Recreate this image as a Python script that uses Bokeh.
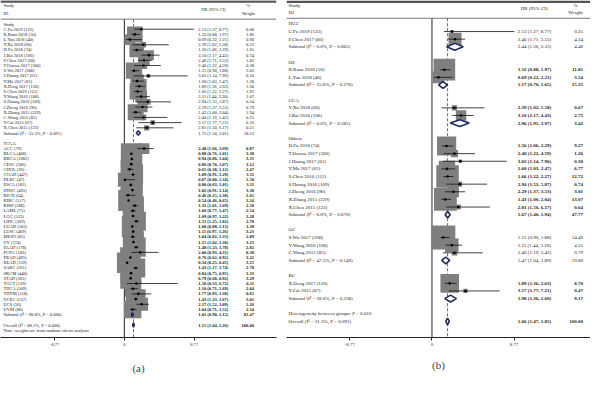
from bokeh.plotting import figure
from bokeh.models import Range1d, FixedTicker, Title, ColumnDataSource, Span
from bokeh.layouts import row
from bokeh.embed import file_html
from bokeh.resources import INLINE
from bokeh.core.properties import value

FONT = "Liberation Serif"

# ---------------- panel (a) data ----------------
a_g1_name = "Study"
a_g1_labels = ["C.Fu 2019 (122)", "R.Ruan 2018 (50)", "L.Yan 2018 (40)", "Y.Xu 2018 (60)",
               "D.Fu 2018 (74)", "J.Bai 2018 (106)", "F.Chen 2017 (60)", "T.Ozawa 2017 (300)",
               "S.Wu 2017 (208)", "J.Huang 2017 (61)", "Y.Ma 2017 (62)", "X.Deng 2017 (120)",
               "S.Chen 2016 (112)", "Y.Wang 2016 (108)", "S.Huang 2016 (109)", "J.Zheng 2016 (96)",
               "X.Zhang 2015 (229)", "C.Wang 2015 (85)", "Y.Cai 2015 (67)", "X.Chen 2015 (123)"]
a_g1_hr = [2.13, 1.32, 0.69, 2.39, 1.56, 3.10, 2.46, 2.40, 1.21, 3.02, 1.60, 1.89, 1.66, 2.11, 2.94, 2.29, 1.43, 2.40, 3.57, 2.81]
a_g1_lo = [1.27, 0.88, 0.22, 1.02, 1.06, 2.17, 1.71, 1.22, 0.90, 1.14, 1.03, 1.36, 1.22, 1.44, 1.53, 1.37, 1.00, 1.19, 1.77, 1.50]
a_g1_hi = [8.77, 1.97, 2.21, 5.58, 2.29, 4.43, 3.53, 4.59, 1.88, 7.96, 2.47, 2.63, 2.27, 3.20, 5.87, 3.53, 2.04, 5.42, 7.21, 6.17]
a_g1_w = [0.08, 1.86, 0.90, 0.22, 1.65, 0.74, 1.02, 0.38, 2.03, 0.10, 1.38, 1.60, 1.92, 1.07, 0.24, 0.79, 1.94, 0.25, 0.16, 0.21]
a_g1_sub = [1.75, 1.50, 2.01, 18.53]
a_g1_het = ["31.3%", "0.091"]

a_g2_name = "TCGA"
a_g2_labels = ["ACC (79)", "BLCA (408)", "BRCA (1082)", "CESC (306)", "CHOL (36)", "COAD (447)",
               "DLBC (47)", "ESCA (182)", "HNSC (495)", "KICH (64)", "KIRC (517)", "KIRP (288)",
               "LAML (75)", "LGG (523)", "LIHC (369)", "LUAD (503)", "LUSC (469)", "MESO (85)",
               "OV (374)", "PAAD (178)", "PCPG (183)", "PRAD (495)", "READ (159)", "SARC (261)",
               "SKCM (440)", "STAD (365)", "TGCT (139)", "THCA (509)", "THYM (118)", "UCEC (537)",
               "UCS (56)", "UVM (80)"]
a_g2_hr = [2.48, 0.88, 0.94, 0.86, 0.65, 1.09, 0.07, 0.80, 1.02, 0.46, 0.54, 1.31, 1.06, 1.09, 1.51, 1.00,
           1.11, 1.04, 1.15, 1.48, 2.00, 0.76, 0.34, 1.43, 0.84, 0.79, 1.50, 1.10, 1.77, 1.43, 2.17, 1.04]
a_g2_lo = [1.66, 0.76, 0.86, 0.70, 0.38, 0.91, 0.00, 0.63, 0.91, 0.15, 0.46, 1.01, 0.77, 0.97, 1.25, 0.88,
           0.97, 0.82, 1.02, 1.23, 0.93, 0.62, 0.25, 1.17, 0.75, 0.68, 0.33, 0.71, 0.93, 1.23, 1.52, 0.71]
a_g2_hi = [3.69, 1.01, 1.04, 1.07, 1.12, 1.29, 1.34, 1.01, 1.14, 1.38, 0.65, 1.69, 1.47, 1.22, 1.82, 1.13,
           1.26, 1.33, 1.30, 1.78, 4.31, 0.92, 0.45, 1.74, 0.95, 0.92, 6.72, 1.69, 3.38, 1.67, 3.09, 1.52]
a_g2_w = [0.87, 3.38, 3.35, 3.12, 2.47, 3.11, 1.50, 3.11, 3.30, 1.65, 3.34, 2.58, 2.54, 3.28, 2.78, 3.38,
          3.23, 2.89, 3.25, 2.82, 0.38, 3.22, 3.15, 2.78, 3.33, 3.29, 0.11, 2.04, 0.65, 3.01, 1.26, 2.34]
a_g2_sub = [1.01, 0.90, 1.12, 81.47]
a_g2_het = ["90.8%", "0.000"]

a_overall = [1.15, 1.04, 1.26, 100.00]
a_overall_het = ["88.1%", "0.000"]
a_note = "Note: weights are from random effects analysis"

# ---------------- panel (b) data ----------------
b_names = ["HCC", "OS", "CCA", "Others", "GC", "BC"]
b_labels = [["C.Fu 2019 (122)", "F.Chen 2017 (60)"],
            ["R.Ruan 2018 (50)", "L.Yan 2018 (40)"],
            ["Y.Xu 2018 (60)", "J.Bai 2018 (106)"],
            ["D.Fu 2018 (74)", "T.Ozawa 2017 (300)", "J.Huang 2017 (61)", "Y.Ma 2017 (62)",
             "S.Chen 2016 (112)", "S.Huang 2016 (109)", "J.Zheng 2016 (96)", "X.Zhang 2015 (229)",
             "X.Chen 2015 (123)"],
            ["S.Wu 2017 (208)", "Y.Wang 2016 (108)", "C.Wang 2015 (85)"],
            ["X.Deng 2017 (120)", "Y.Cai 2015 (67)"]]
b_hr = [[2.13, 2.46], [1.32, 0.69], [2.39, 3.10],
        [1.56, 2.40, 3.02, 1.60, 1.66, 2.94, 2.29, 1.43, 2.81], [1.21, 2.11, 2.40], [1.89, 3.57]]
b_lo = [[1.27, 1.71], [0.88, 0.22], [1.02, 2.17],
        [1.06, 1.22, 1.14, 1.03, 1.22, 1.53, 1.37, 1.00, 1.50], [0.90, 1.44, 1.19], [1.36, 1.77]]
b_hi = [[8.77, 3.53], [1.97, 2.21], [5.58, 4.43],
        [2.29, 4.59, 7.96, 2.47, 2.27, 5.87, 3.53, 2.04, 6.17], [1.88, 3.20, 5.42], [2.63, 7.21]]
b_w = [[0.25, 4.24], [11.81, 3.54], [0.67, 2.75],
       [9.27, 1.26, 0.30, 6.77, 12.72, 0.74, 3.01, 13.07, 0.64], [14.49, 4.55, 0.79], [8.70, 0.47]]
b_sub = [[2.44, 1.56, 3.33, 4.48], [1.17, 0.70, 1.65, 15.35], [2.96, 1.95, 3.97, 3.42],
         [1.67, 1.40, 1.94, 47.77], [1.47, 1.04, 1.89, 19.80], [1.98, 1.36, 2.60, 9.17]]
b_het = [["0.0%", "0.865"], ["15.6%", "0.276"], ["0.0%", "0.585"],
         ["0.0%", "0.670"], ["47.5%", "0.149"], ["28.0%", "0.238"]]
b_bold = [False, True, True, True, False, True]
b_overall = [1.66, 1.47, 1.85, 100.00]
b_overall_het = ["31.3%", "0.091"]
b_between = "Heterogeneity between groups: P = 0.010"

TICKS = [-8.77, 0, 8.77]


def fmt(h, l, u):
    return f"{h:.2f} ({l:.2f}, {u:.2f})"


def build(groups, overall, overall_het, extra_before, extra_after, cfg):
    lab = dict(x=[], y=[], text=[])
    val = dict(x=[], y=[], text=[], style=[])
    wt = dict(x=[], y=[], text=[], style=[])
    st = dict(hr=[], lo=[], hi=[], y=[], size=[])
    dia = dict(xs=[], ys=[])
    r = 0
    hh = cfg["dh"]

    def diamond(s, yy):
        dia["xs"].append([s[1], s[0], s[2], s[0]])
        dia["ys"].append([yy, yy - hh, yy, yy + hh])

    for g in groups:
        lab["x"].append(cfg["xlab"]); lab["y"].append(r); lab["text"].append(g["name"])
        r += 1
        sty = "bold" if g["bold"] else "normal"
        for i, name in enumerate(g["labels"]):
            lab["x"].append(cfg["xlab"]); lab["y"].append(r); lab["text"].append(name)
            val["x"].append(cfg["xhr"]); val["y"].append(r)
            val["text"].append(fmt(g["hr"][i], g["lo"][i], g["hi"][i])); val["style"].append(sty)
            wt["x"].append(cfg["xw"]); wt["y"].append(r)
            wt["text"].append(f"{g['w'][i]:.2f}"); wt["style"].append(sty)
            st["hr"].append(g["hr"][i]); st["lo"].append(g["lo"][i]); st["hi"].append(g["hi"][i])
            st["y"].append(r); st["size"].append(cfg["box"] * (g["w"][i] / cfg["wmax"]) ** 0.5)
            r += 1
        s = g["sub"]
        lab["x"].append(cfg["xlab"]); lab["y"].append(r)
        lab["text"].append(f"Subtotal  (I\u00b2 = {g['het'][0]}, P = {g['het'][1]})")
        val["x"].append(cfg["xhr"]); val["y"].append(r); val["text"].append(fmt(s[0], s[1], s[2])); val["style"].append(sty)
        wt["x"].append(cfg["xw"]); wt["y"].append(r); wt["text"].append(f"{s[3]:.2f}"); wt["style"].append(sty)
        diamond(s, r)
        r += 2
    for t in extra_before:
        lab["x"].append(cfg["xlab"]); lab["y"].append(r); lab["text"].append(t)
        r += 1
    lab["x"].append(cfg["xlab"]); lab["y"].append(r)
    lab["text"].append(f"Overall  (I\u00b2 = {overall_het[0]}, P = {overall_het[1]})")
    val["x"].append(cfg["xhr"]); val["y"].append(r); val["text"].append(fmt(*overall[:3])); val["style"].append("bold")
    wt["x"].append(cfg["xw"]); wt["y"].append(r); wt["text"].append(f"{overall[3]:.2f}"); wt["style"].append("bold")
    diamond(overall, r)
    r += 1
    for t in extra_after:
        lab["x"].append(cfg["xlab"]); lab["y"].append(r); lab["text"].append(t)
        r += 1

    p = figure(width=cfg["width"], height=cfg["height"], output_backend="svg", toolbar_location=None,
               x_range=Range1d(*cfg["xr"]), y_range=Range1d(cfg["ybot"], cfg["ytop"]),
               y_axis_location=None, min_border_left=0, min_border_top=0,
               min_border_right=cfg["mbr"], min_border_bottom=cfg["mbb"])
    p.outline_line_color = None
    p.xgrid.visible = False
    p.ygrid.visible = False
    ax = p.xaxis[0]
    ax.ticker = FixedTicker(ticks=TICKS)
    ax.major_label_overrides = {t: (f"{t:g}") for t in TICKS}
    ax.minor_tick_line_color = None
    ax.major_tick_in = 0
    ax.major_tick_out = 3
    ax.major_label_standoff = 2
    ax.axis_line_color = "#222222"
    ax.major_tick_line_color = "#222222"
    ax.major_label_text_font = FONT
    ax.major_label_text_font_size = cfg["fs"]
    ax.major_label_text_color = "#333333"

    # header rules
    p.add_layout(Span(location=cfg["ytop"] + 0.18, dimension="width", line_color="#555555", line_width=2.5))
    p.add_layout(Span(location=cfg["yhl"], dimension="width", line_color="#555555", line_width=0.8))

    # reference lines
    p.segment(x0=[0], y0=[cfg["yhl"]], x1=[0], y1=[cfg["ybot"]], line_color="#222222", line_width=1)
    p.segment(x0=[overall[0]], y0=[cfg["yhl"]], x1=[overall[0]], y1=[cfg["ybot"]],
              line_color="#b5504e", line_width=1, line_dash="3 2")

    ssrc = ColumnDataSource(st)
    p.scatter(x="hr", y="y", size="size", marker="square", source=ssrc,
              fill_color="#7f7f7f", line_color=None)
    p.segment(x0="lo", y0="y", x1="hi", y1="y", source=ssrc, line_color="#111111", line_width=0.8)
    p.scatter(x="hr", y="y", size=2.6, marker="circle", source=ssrc, fill_color="#000000", line_color=None)
    p.patches(xs="xs", ys="ys", source=ColumnDataSource(dia), fill_color="white",
              line_color="#1d2b5e", line_width=1.6)

    common = dict(text_font=value(FONT), text_font_size=cfg["fs"], text_baseline="middle", text_color="#222222")
    p.text(x="x", y="y", text="text", source=ColumnDataSource(lab), text_align="left", **common)
    p.text(x="x", y="y", text="text", text_font_style="style", source=ColumnDataSource(val), text_align="left", **common)
    p.text(x="x", y="y", text="text", text_font_style="style", source=ColumnDataSource(wt), text_align="right", **common)

    # column headers
    p.text(x=[cfg["xlab"], cfg["xlab"]], y=[cfg["yh1"], cfg["yh2"]], text=["Study", "ID"], text_align="left", **common)
    p.text(x=[cfg["xhrh"]], y=[(cfg["yh1"] + cfg["yh2"]) / 2], text=["HR (95% CI)"], text_align="center", **common)
    p.text(x=[cfg["xwh"], cfg["xwh"]], y=[cfg["yh1"], cfg["yh2"]], text=["%", "Weight"], text_align="center", **common)

    p.add_layout(Title(text=cfg["tag"], align="center", text_font=FONT, text_font_size="11px",
                       text_font_style="normal", standoff=cfg["tagoff"]), "below")
    return p


groups_a = [
    dict(name=a_g1_name, labels=a_g1_labels, hr=a_g1_hr, lo=a_g1_lo, hi=a_g1_hi, w=a_g1_w,
         sub=a_g1_sub, het=a_g1_het, bold=False),
    dict(name=a_g2_name, labels=a_g2_labels, hr=a_g2_hr, lo=a_g2_lo, hi=a_g2_hi, w=a_g2_w,
         sub=a_g2_sub, het=a_g2_het, bold=True),
]
groups_b = [dict(name=b_names[k], labels=b_labels[k], hr=b_hr[k], lo=b_lo[k], hi=b_hi[k], w=b_w[k],
                 sub=b_sub[k], het=b_het[k], bold=b_bold[k]) for k in range(len(b_names))]

cfg_a = dict(width=286, height=385, mbr=10, mbb=41, xr=(-15.58, 19.14), ybot=60.4, ytop=-4.53,
             yhl=-0.94, yh1=-3.58, yh2=-2.08, xlab=-15.2, xhr=9.3, xw=16.3, xhrh=11.2, xwh=15.6,
             fs="4.5px", box=21, wmax=3.38, dh=0.42, tag="(a)", tagoff=23)
cfg_b = dict(width=304, height=385, mbr=0, mbb=25, xr=(-15.51, 16.9), ybot=41.1, ytop=-3.07,
             yhl=-0.74, yh1=-2.45, yh2=-1.47, xlab=-15.3, xhr=9.14, xw=16.1, xhrh=10.9, xwh=15.3,
             fs="5px", box=24, wmax=14.49, dh=0.45, tag="(b)", tagoff=16)

pa = build(groups_a, a_overall, a_overall_het, [], [a_note], cfg_a)
pb = build(groups_b, b_overall, b_overall_het, [b_between], [], cfg_b)

layout = row(pa, pb)
open("out.html", "w").write(file_html(layout, INLINE))
